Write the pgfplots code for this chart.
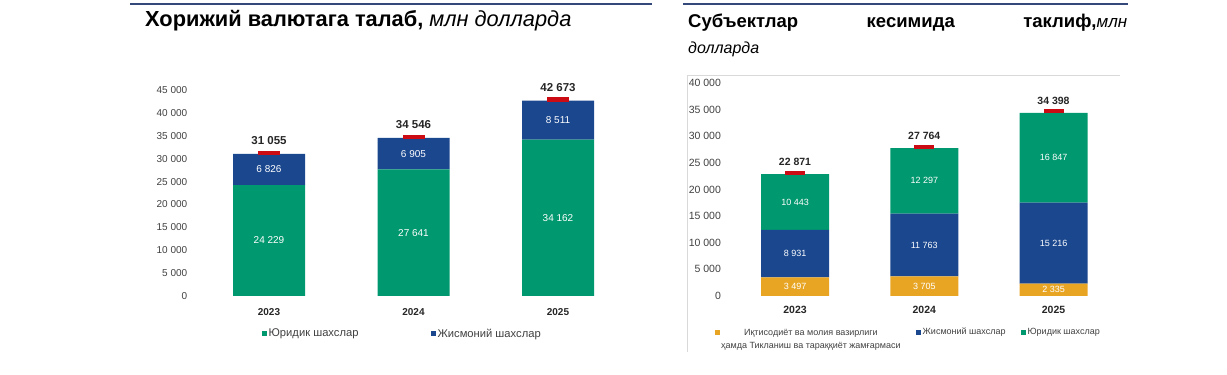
\documentclass[border=0pt]{standalone}
\usepackage{fontspec}
\setmainfont{Liberation Sans}
\usepackage{pgfplots}
\pgfplotsset{compat=1.18}
\definecolor{cgreen}{RGB}{0,152,110}
\definecolor{cblue}{RGB}{26,71,142}
\definecolor{cyellow}{RGB}{232,165,36}
\definecolor{cred}{RGB}{204,12,20}
\definecolor{ctick}{RGB}{64,64,64}
\definecolor{cline}{RGB}{52,72,122}
\pgfplotsset{
  sqleg/.style={legend image code/.code={\fill[##1] (0pt,-2.5pt) rectangle (5pt,2.5pt);}},
  base/.style={
    scale only axis, xmin=-0.5, xmax=2.5,
    axis line style={draw=none}, major tick length=0pt,
    scaled y ticks=false,
    /pgf/number format/1000 sep={\ },
    /pgf/number format/assume math mode=true,
    clip=false,
  },
  lbl/.style={only marks, mark=text, text mark={}, point meta=explicit symbolic, nodes near coords},
}
\begin{document}
\begin{tikzpicture}
\useasboundingbox (0pt,0pt) rectangle (1227pt,375pt);
% title rules
\draw[cline, line width=2.5pt] (130pt,371pt) -- (652pt,371pt);
\draw[cline, line width=2.5pt] (683pt,371pt) -- (1128pt,371pt);
% titles
\node[anchor=base west, inner sep=0pt, font=\fontsize{21.8}{24}\selectfont] at (145pt,348pt)
  {\textbf{Хорижий валютага талаб,} \textit{млн долларда}};
\node[anchor=north west, inner sep=0pt, text width=439pt, align=justify,
      font=\fontsize{18.5}{26}\selectfont] at (688pt,361pt)
  {\textbf{Субъектлар кесимида таклиф,}{\fontsize{17}{26}\selectfont\textit{млн}}\linebreak {\fontsize{16}{26}\selectfont\textit{долларда}}};
% right frame
\draw[black!15, line width=0.8pt] (687pt,23pt) -- (687pt,300pt) -- (1120pt,300pt);

% ===== Left chart =====
\begin{axis}[base, at={(196.75pt,79pt)}, anchor=south west, width=433.5pt, height=206pt,
  ymin=0, ymax=45000, ybar stacked, bar width=72pt,
  ytick={0,5000,...,45000},
  xtick={0,1,2}, xticklabels={2023,2024,2025},
  yticklabel style={font=\fontsize{10}{12}\selectfont, text=ctick, xshift=-6pt},
  xticklabel style={font=\bfseries\fontsize{10}{12}\selectfont, text=black!85, yshift=-9pt},
  legend columns=2,
  legend style={draw=none, fill=none, at={(0.474,-0.141)}, anchor=north,
    font=\fontsize{11.2}{13}\selectfont, text=ctick,
    /tikz/every even column/.append style={column sep=71pt},
    nodes={inner sep=1.5pt}},
]
\addplot[fill=cgreen, draw=none, sqleg] coordinates {(0,24229) (1,27641) (2,34162)};
\addplot[fill=cblue, draw=none, sqleg] coordinates {(0,6826) (1,6905) (2,8511)};
\legend{Юридик шахслар, Жисмоний шахслар}
\end{axis}
\begin{axis}[base, at={(196.75pt,79pt)}, anchor=south west, width=433.5pt, height=206pt,
  ymin=0, ymax=45000, hide axis]
\addplot[lbl, nodes near coords style={anchor=center, text=white, font=\fontsize{10}{12}\selectfont}]
  coordinates {(0,12114.5) [24 229] (1,13820.5) [27 641] (2,17081) [34 162]
               (0,27642) [6 826] (1,31093.5) [6 905] (2,38417.5) [8 511]};
\addplot[only marks, mark=-, mark size=11pt, mark options={draw=cred, line width=4.5pt, yshift=1pt}]
  coordinates {(0,31055) (1,34546) (2,42673)};
\addplot[lbl, nodes near coords style={anchor=base, yshift=9pt, text=black!85, font=\bfseries\fontsize{11.5}{13}\selectfont}]
  coordinates {(0,31055) [31 055] (1,34546) [34 546] (2,42673) [42 673]};
\end{axis}

% ===== Right chart =====
\begin{axis}[base, at={(730.4pt,79pt)}, anchor=south west, width=387.75pt, height=213pt,
  ymin=0, ymax=40000, ybar stacked, bar width=68pt,
  ytick={0,5000,...,40000},
  xtick={0,1,2}, xticklabels={2023,2024,2025},
  yticklabel style={font=\fontsize{10.5}{12}\selectfont, text=ctick, xshift=-6pt},
  xticklabel style={font=\bfseries\fontsize{10.5}{12}\selectfont, text=black!85, yshift=-7pt},
  legend columns=3,
  legend style={draw=none, fill=none, at={(0.458,-0.127)}, anchor=north,
    font=\fontsize{9}{13}\selectfont, text=ctick,
    /tikz/every even column/.append style={column sep=14pt},
    nodes={inner sep=1.5pt}},
]
\addplot[fill=cyellow, draw=none, sqleg] coordinates {(0,3497) (1,3705) (2,2335)};
\addplot[fill=cblue, draw=none, sqleg] coordinates {(0,8931) (1,11763) (2,15216)};
\addplot[fill=cgreen, draw=none, sqleg] coordinates {(0,10443) (1,12297) (2,16847)};
\legend{{\begin{tabular}[t]{@{}c@{}}Иқтисодиёт ва молия вазирлиги\\ҳамда Тикланиш ва тараққиёт жамғармаси\end{tabular}}, Жисмоний шахслар, Юридик шахслар}
\end{axis}
\begin{axis}[base, at={(730.4pt,79pt)}, anchor=south west, width=387.75pt, height=213pt,
  ymin=0, ymax=40000, hide axis]
\addplot[lbl, nodes near coords style={anchor=center, text=white, font=\fontsize{9}{11}\selectfont}]
  coordinates {(0,1748.5) [3 497] (1,1852.5) [3 705] (2,1167.5) [2 335]
               (0,7962.5) [8 931] (1,9586.5) [11 763] (2,9943) [15 216]
               (0,17649.5) [10 443] (1,21616.5) [12 297] (2,25974.5) [16 847]};
\addplot[only marks, mark=-, mark size=10pt, mark options={draw=cred, line width=4pt, yshift=1.5pt}]
  coordinates {(0,22871) (1,27764) (2,34398)};
\addplot[lbl, nodes near coords style={anchor=base, yshift=8.5pt, text=black!85, font=\bfseries\fontsize{10.5}{12}\selectfont}]
  coordinates {(0,22871) [22 871] (1,27764) [27 764] (2,34398) [34 398]};
\end{axis}
\end{tikzpicture}
\end{document}
